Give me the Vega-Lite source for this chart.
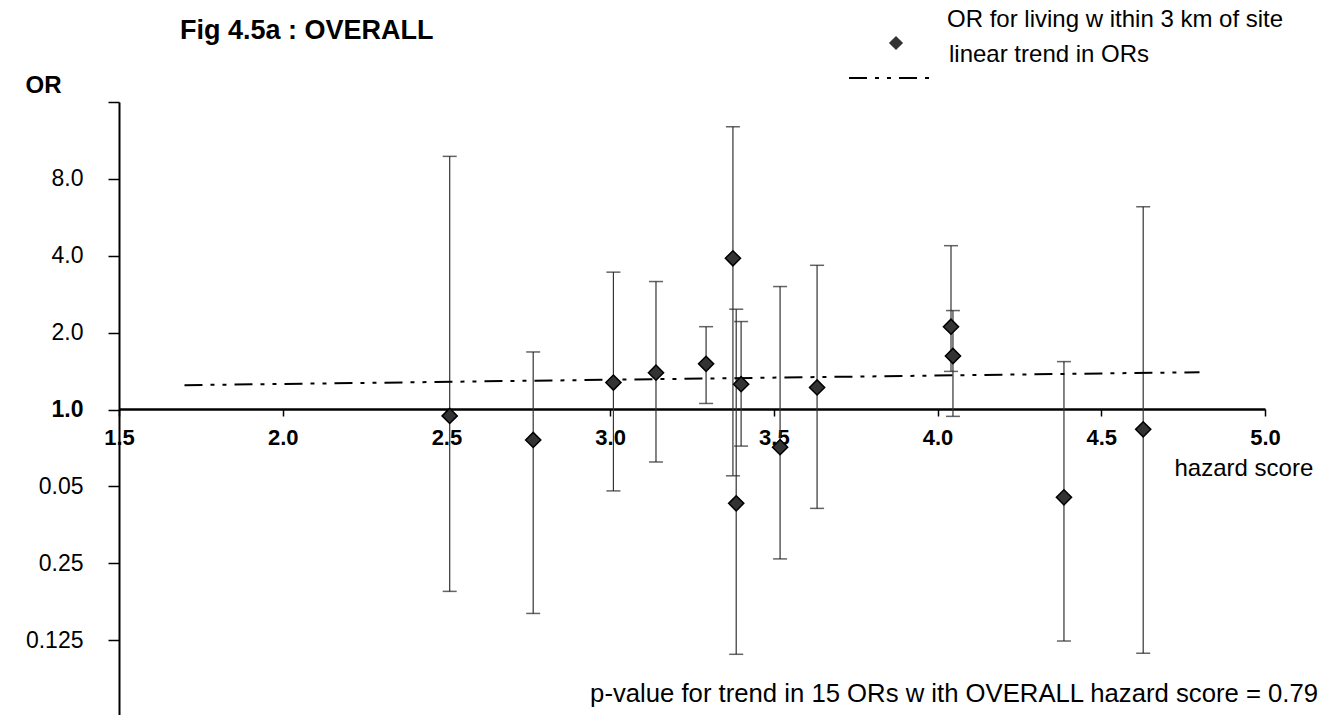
{
  "$schema": "https://vega.github.io/schema/vega-lite/v6.json",
  "autosize": {"type": "none"},
  "padding": {"left": 119, "top": 102, "right": 56, "bottom": 0},
  "width": 1146,
  "height": 615,
  "background": "white",
  "config": {
    "font": "Liberation Sans",
    "view": {"stroke": null},
    "axis": {"grid": false, "domainColor": "#000", "tickColor": "#000", "labelColor": "#000", "titleColor": "#000", "labelFont": "Liberation Sans", "titleFont": "Liberation Sans"}
  },
  "title": {
    "text": "Fig 4.5a : OVERALL",
    "anchor": "start",
    "frame": "group",
    "dx": 61,
    "dy": 98,
    "offset": 40,
    "baseline": "alphabetic",
    "fontSize": 27,
    "fontWeight": "bold",
    "font": "Liberation Sans",
    "color": "#000"
  },
  "datasets": {
    "ors": [
      {"hazard": 2.51, "or": 0.944, "lo": 0.194, "hi": 9.8},
      {"hazard": 2.765, "or": 0.76, "lo": 0.159, "hi": 1.68},
      {"hazard": 3.01, "or": 1.275, "lo": 0.48, "hi": 3.45},
      {"hazard": 3.14, "or": 1.394, "lo": 0.623, "hi": 3.17},
      {"hazard": 3.293, "or": 1.51, "lo": 1.056, "hi": 2.11},
      {"hazard": 3.375, "or": 3.91, "lo": 0.55, "hi": 12.8},
      {"hazard": 3.385, "or": 0.429, "lo": 0.11, "hi": 2.47},
      {"hazard": 3.4, "or": 1.256, "lo": 0.719, "hi": 2.21},
      {"hazard": 3.519, "or": 0.712, "lo": 0.26, "hi": 3.03},
      {"hazard": 3.632, "or": 1.22, "lo": 0.41, "hi": 3.67},
      {"hazard": 4.041, "or": 2.11, "lo": 1.41, "hi": 4.38},
      {"hazard": 4.047, "or": 1.62, "lo": 0.94, "hi": 2.44},
      {"hazard": 4.386, "or": 0.453, "lo": 0.124, "hi": 1.54},
      {"hazard": 4.628, "or": 0.836, "lo": 0.111, "hi": 6.22}
    ],
    "trend": [
      {"hazard": 1.7, "or": 1.245},
      {"hazard": 4.8, "or": 1.4}
    ],
    "note": [
      {"label": "p-value for trend in 15 ORs w ith OVERALL hazard score = 0.79"}
    ]
  },
  "encoding": {
    "x": {
      "type": "quantitative",
      "scale": {"domain": [1.5, 5.0], "nice": false, "zero": false},
      "axis": {
        "values": [1.5, 2.0, 2.5, 3.0, 3.5, 4.0, 4.5, 5.0],
        "format": ".1f",
        "offset": -308,
        "domainWidth": 2.5,
        "tickSize": 7,
        "tickWidth": 1.5,
        "labelFontSize": 22,
        "labelFontWeight": "bold",
        "labelPadding": 11,
        "labelFlush": false,
        "labelOverlap": false,
        "title": "hazard score",
        "titleFontSize": 24,
        "titleFontWeight": "normal",
        "titleX": 1055,
        "titleY": 66,
        "titleAlign": "left",
        "titleBaseline": "alphabetic"
      }
    },
    "y": {
      "type": "quantitative",
      "scale": {"type": "log", "base": 2, "domain": [0.0625, 16], "nice": false},
      "axis": {
        "values": [0.125, 0.25, 0.5, 1, 2, 4, 8, 16],
        "labelExpr": "datum.value == 16 ? '' : datum.value == 0.5 ? '0.05' : datum.value == 0.25 ? '0.25' : datum.value == 0.125 ? '0.125' : format(datum.value, '.1f')",
        "domainWidth": 2,
        "tickSize": 11,
        "tickWidth": 1.5,
        "labelFontSize": 23,
        "labelFontWeight": {"condition": {"test": "datum.value == 1", "value": "bold"}, "value": "normal"},
        "labelPadding": 25,
        "labelOverlap": false,
        "labelFlush": false,
        "title": "OR",
        "titleAngle": 0,
        "titleFontSize": 24,
        "titleFontWeight": "bold",
        "titleX": -76,
        "titleY": -17,
        "titleAlign": "center",
        "titleBaseline": "middle"
      }
    }
  },
  "layer": [
    {
      "data": {"name": "ors"},
      "mark": {"type": "rule", "color": "#333", "strokeWidth": 1.2},
      "encoding": {
        "x": {"field": "hazard"},
        "y": {"field": "lo"},
        "y2": {"field": "hi"}
      }
    },
    {
      "data": {"name": "ors"},
      "mark": {"type": "tick", "orient": "horizontal", "color": "#222", "size": 14, "thickness": 1.5},
      "encoding": {
        "x": {"field": "hazard"},
        "y": {"field": "lo"}
      }
    },
    {
      "data": {"name": "ors"},
      "mark": {"type": "tick", "orient": "horizontal", "color": "#222", "size": 14, "thickness": 1.5},
      "encoding": {
        "x": {"field": "hazard"},
        "y": {"field": "hi"}
      }
    },
    {
      "data": {"name": "trend"},
      "mark": {"type": "line", "color": "#000", "strokeWidth": 2},
      "encoding": {
        "x": {"field": "hazard"},
        "y": {"field": "or"},
        "strokeDash": {
          "datum": "linear trend in ORs",
          "scale": {"range": [[18, 8, 4, 8, 4, 8]]},
          "legend": {
            "title": null,
            "orient": "none",
            "legendX": 729,
            "legendY": -67,
            "padding": 0,
            "symbolType": "stroke",
            "symbolSize": 7056,
            "symbolStrokeWidth": 2,
            "symbolStrokeColor": "#000",
            "labelFontSize": 24,
            "labelFont": "Liberation Sans",
            "labelColor": "#000",
            "labelOffset": 15,
            "labelLimit": 600,
            "encode": {"labels": {"update": {"dy": {"value": -23}}}}
          }
        }
      }
    },
    {
      "data": {"name": "ors"},
      "mark": {"type": "point", "filled": true, "fill": "#333", "stroke": "#000", "strokeWidth": 1.5, "size": 230, "opacity": 1},
      "encoding": {
        "x": {"field": "hazard"},
        "y": {"field": "or"},
        "shape": {
          "datum": "OR for living w ithin 3 km of site",
          "scale": {"range": ["diamond"]},
          "legend": {
            "title": "OR for living w ithin 3 km of site",
            "titleOrient": "top",
            "titleAnchor": "start",
            "titleFontSize": 24,
            "titleFontWeight": "normal",
            "titleFont": "Liberation Sans",
            "titleColor": "#000",
            "titleLimit": 600,
            "titlePadding": 3,
            "titleBaseline": "top",
            "orient": "none",
            "legendX": 828,
            "legendY": -94,
            "padding": 0,
            "symbolSize": 200,
            "symbolOffset": -59,
            "symbolFillColor": "#333",
            "symbolStrokeColor": "#000",
            "symbolStrokeWidth": 1.5,
            "labelExpr": "''",
            "labelFontSize": 10,
            "labelOffset": 0
          }
        }
      }
    },
    {
      "data": {"name": "note"},
      "mark": {"type": "text", "align": "right", "baseline": "alphabetic", "fontSize": 25.7, "font": "Liberation Sans", "color": "#000"},
      "encoding": {
        "x": {"datum": 5.162},
        "y": {"datum": 0.0715},
        "text": {"field": "label"}
      }
    }
  ]
}
